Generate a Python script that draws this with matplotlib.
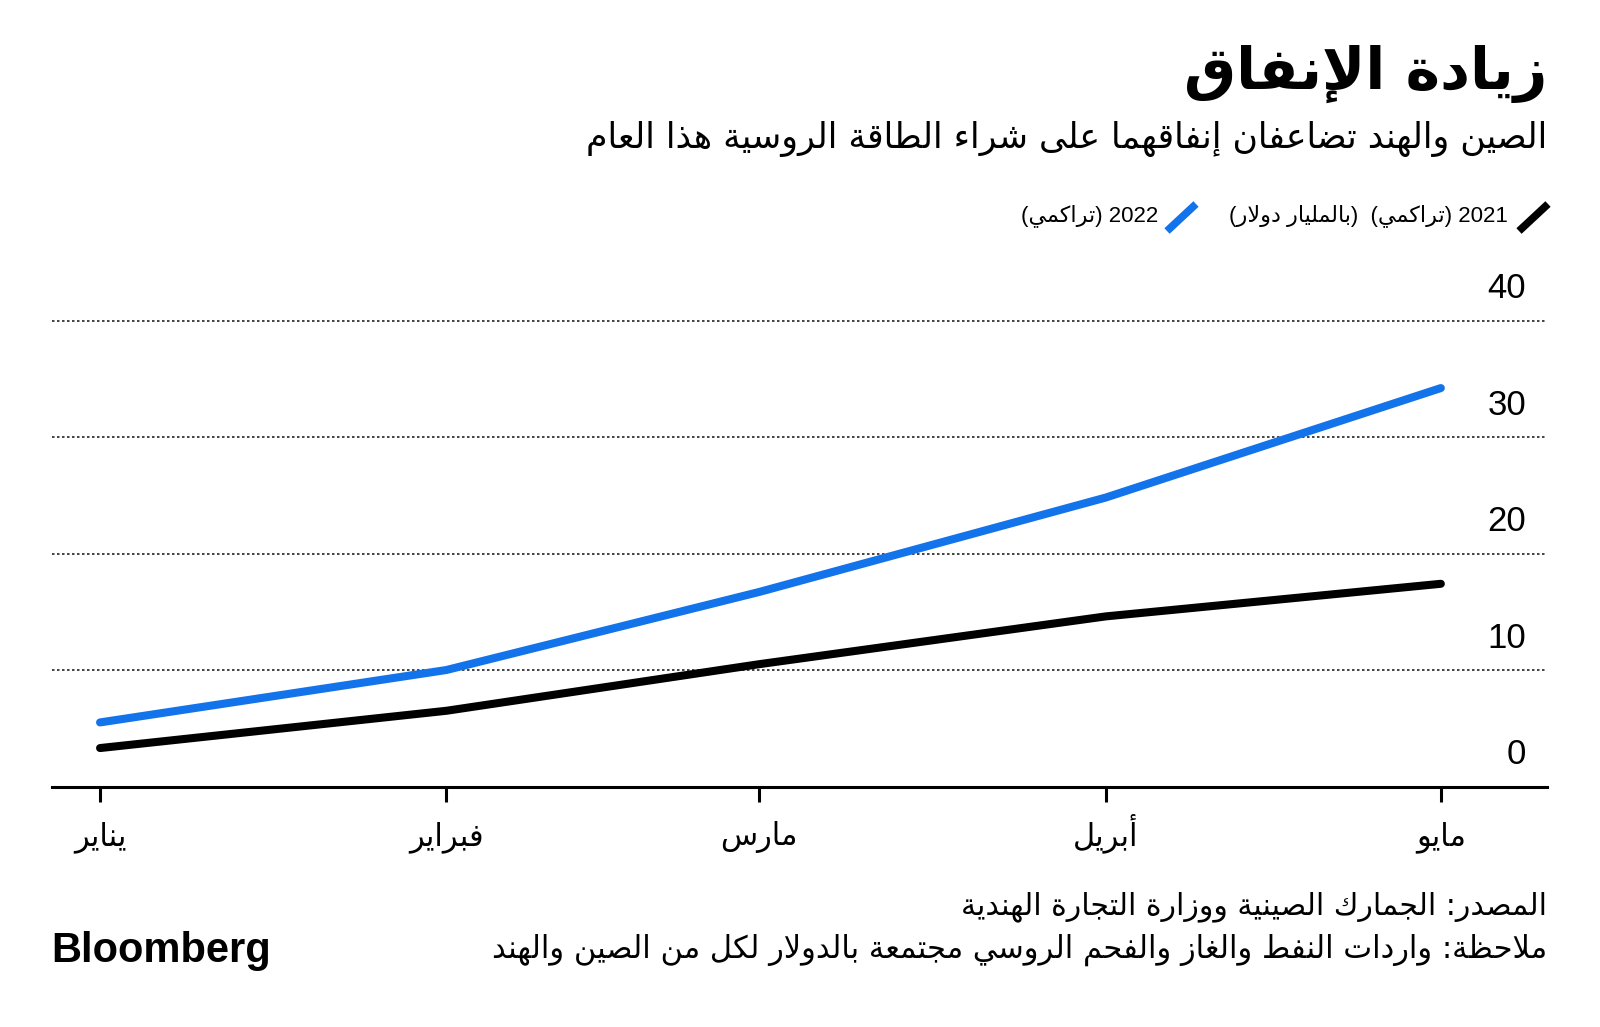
import matplotlib
matplotlib.use("Agg")
import matplotlib.pyplot as plt
from matplotlib.lines import Line2D
import pandas as pd

# ---------------- data ----------------
months = ['يناير', 'فبراير', 'مارس', 'أبريل', 'مايو']
dates = pd.to_datetime(['2022-01-01', '2022-02-01', '2022-03-01', '2022-04-01', '2022-05-01'])
values_2021 = [3.3, 6.5, 10.5, 14.6, 17.4]
values_2022 = [5.5, 10.0, 16.7, 24.8, 34.2]
yticks = [0, 10, 20, 30, 40]

title = 'زيادة الإنفاق'
subtitle = 'الصين والهند تضاعفان إنفاقهما على شراء الطاقة الروسية هذا العام'
unit = '(بالمليار دولار)'
cum = '(تراكمي)'
source = 'المصدر: الجمارك الصينية ووزارة التجارة الهندية'
note = 'ملاحظة: واردات النفط والغاز والفحم الروسي مجتمعة بالدولار لكل من الصين والهند'

BLUE = '#1273EB'

# ------------- Arabic shaping (presentation forms) + visual order -------------
_R = {'آ': 0xFE81, 'أ': 0xFE83, 'ؤ': 0xFE85, 'إ': 0xFE87, 'ا': 0xFE8D, 'ة': 0xFE93,
      'د': 0xFEA9, 'ذ': 0xFEAB, 'ر': 0xFEAD, 'ز': 0xFEAF, 'و': 0xFEED, 'ى': 0xFEEF}
_D = {'ئ': 0xFE89, 'ب': 0xFE8F, 'ت': 0xFE95, 'ث': 0xFE99, 'ج': 0xFE9D, 'ح': 0xFEA1,
      'خ': 0xFEA5, 'س': 0xFEB1, 'ش': 0xFEB5, 'ص': 0xFEB9, 'ض': 0xFEBD, 'ط': 0xFEC1,
      'ظ': 0xFEC5, 'ع': 0xFEC9, 'غ': 0xFECD, 'ف': 0xFED1, 'ق': 0xFED5, 'ك': 0xFED9,
      'ل': 0xFEDD, 'م': 0xFEE1, 'ن': 0xFEE5, 'ه': 0xFEE9, 'ي': 0xFEF1}
_N = {'ء': 0xFE80}
_LA = {'آ': 0xFEF5, 'أ': 0xFEF7, 'إ': 0xFEF9, 'ا': 0xFEFB}
_MIRROR = {'(': ')', ')': '('}


def _shape(s):
    toks = []
    i = 0
    while i < len(s):
        c = s[i]
        if c == 'ل' and i + 1 < len(s) and s[i + 1] in _LA:
            toks.append(('LA', s[i + 1]))
            i += 2
        else:
            toks.append((c, None))
            i += 1

    def jn_next(t):
        return t[0] in _D

    def jn_prev(t):
        return t[0] == 'LA' or t[0] in _R or t[0] in _D

    out = []
    for k, t in enumerate(toks):
        prev = toks[k - 1] if k > 0 else None
        nxt = toks[k + 1] if k + 1 < len(toks) else None
        jp = prev is not None and jn_next(prev) and jn_prev(t)
        jn = nxt is not None and jn_next(t) and jn_prev(nxt)
        if t[0] == 'LA':
            out.append(chr(_LA[t[1]] + (1 if jp else 0)))
        elif t[0] in _D:
            off = 3 if (jp and jn) else 2 if jn else 1 if jp else 0
            out.append(chr(_D[t[0]] + off))
        elif t[0] in _R:
            out.append(chr(_R[t[0]] + (1 if jp else 0)))
        elif t[0] in _N:
            out.append(chr(_N[t[0]]))
        else:
            out.append(t[0])
    return ''.join(out)


def ar(s):
    return ''.join(_MIRROR.get(c, c) for c in reversed(_shape(s)))


AR = ['DejaVu Sans']
NUM = ['Liberation Sans', 'DejaVu Sans']

# ---------------- figure ----------------
W, H = 1600, 1027
fig = plt.figure(figsize=(W / 100, H / 100), dpi=100)
fig.patch.set_facecolor('white')


def fx(px):
    return px / W


def fy(py):
    return 1 - py / H


y0_px, ppu = 786.5, 11.65
ytop = 41
ax = fig.add_axes([fx(52), fy(y0_px), (1547 - 52) / W, ytop * ppu / H])
ax.set_ylim(0, ytop)
ax.set_xlim(dates[0] - pd.Timedelta(days=4.3), dates[-1] + pd.Timedelta(days=9.5))

for sp in ['top', 'left', 'right']:
    ax.spines[sp].set_visible(False)
ax.spines['bottom'].set_linewidth(2.2)
ax.spines['bottom'].set_color('black')

for v in yticks[1:]:
    ax.axhline(v, color='#222222', lw=1.2, ls=(0, (1.5, 1.5)), zorder=1)
ax.set_yticks([])
for v in yticks:
    ax.annotate(str(v), xy=(0.986, v), xycoords=('axes fraction', 'data'),
                xytext=(0, 23), textcoords='offset points', ha='right', va='center',
                fontsize=25, family=NUM, color='black', annotation_clip=False)

ax.plot(dates, values_2021, color='black', lw=5.8, solid_capstyle='round', zorder=3)
ax.plot(dates, values_2022, color=BLUE, lw=5.8, solid_capstyle='round', zorder=4)

ax.set_xticks(dates)
ax.set_xticklabels([])
ax.tick_params(axis='x', direction='out', length=10.5, width=2.2, color='black')
for d, m in zip(dates, months):
    ax.annotate(ar(m), xy=(d, 0), xycoords=('data', 'axes fraction'),
                xytext=(0, -(845 - y0_px) * 0.72), textcoords='offset points',
                ha='center', va='baseline', fontsize=22, family=AR, annotation_clip=False)

# ---------------- texts ----------------
fig.text(fx(1547), fy(74), ar(title), ha='right', va='center', fontsize=42,
         fontweight='bold', family=AR)
fig.text(fx(1547), fy(139), ar(subtitle), ha='right', va='center', fontsize=25, family=AR)

# legend
fig.add_artist(Line2D([fx(1519), fx(1548)], [fy(231), fy(204)], color='black', lw=5.5,
                      solid_capstyle='butt', transform=fig.transFigure))
fig.text(fx(1508), fy(216), ar(unit) + '  ' + ar(cum) + ' 2021', ha='right', va='center',
         fontsize=16, family=NUM)
fig.add_artist(Line2D([fx(1167), fx(1196)], [fy(231), fy(204)], color=BLUE, lw=5.5,
                      solid_capstyle='butt', transform=fig.transFigure))
fig.text(fx(1158), fy(216), ar(cum) + ' 2022', ha='right', va='center',
         fontsize=16, family=NUM)

fig.text(fx(1547), fy(907), ar(source), ha='right', va='center', fontsize=21.5, family=AR)
fig.text(fx(1547), fy(950), ar(note), ha='right', va='center', fontsize=22, family=AR)
fig.text(fx(51), fy(951), 'Bloomberg', ha='left', va='center', fontsize=30,
         fontweight='bold', family=['Liberation Sans', 'DejaVu Sans'])

fig.savefig('out.png', dpi=100, facecolor='white')
